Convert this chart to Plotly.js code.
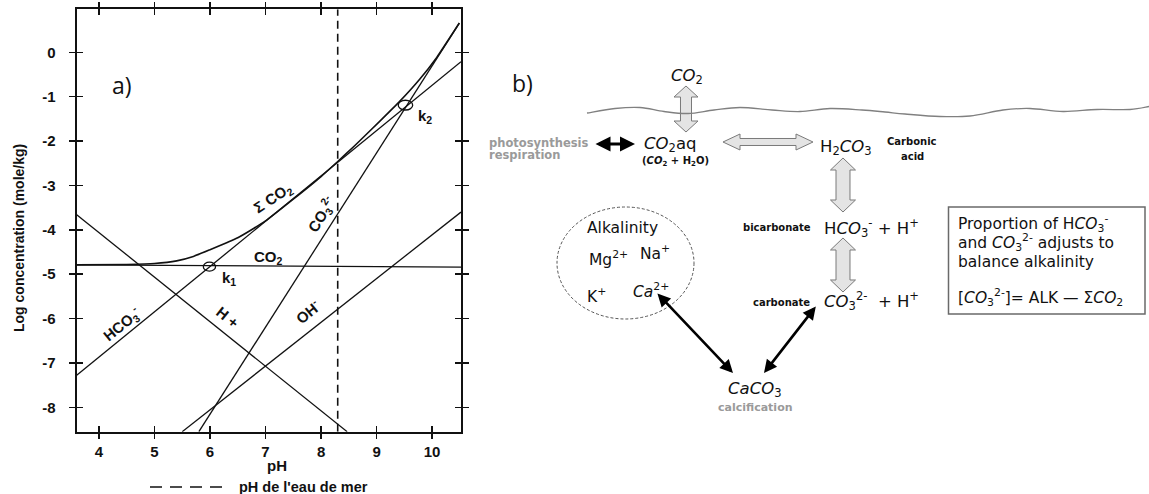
<!DOCTYPE html>
<html>
<head>
<meta charset="utf-8">
<script src="https://cdn.plot.ly/plotly-3.0.1.min.js"></script>
<style>html,body{margin:0;padding:0;background:#fff;}#chart{width:1149px;height:494px;}</style>
</head>
<body>
<div id="chart"></div>
<script>
// ---- Data ----
const phRange = [3.6, 10.52];
const logRange = [-8.55, 0.97];
const phTicks = [4, 5, 6, 7, 8, 9, 10];
const logTicks = [0, -1, -2, -3, -4, -5, -6, -7, -8];

const co2PH = [3.6, 10.52];
const co2Log = [-4.79, -4.84];

const hco3PH = [3.6, 10.52];
const hco3Log = [-7.28, -0.21];

const co3PH = [5.80, 10.49];
const co3Log = [-8.55, 0.66];

const hPH = [3.6, 8.47];
const hLog = [-3.66, -8.55];

const ohPH = [5.50, 10.52];
const ohLog = [-8.55, -3.60];

const sumPH = [3.6, 4.5, 5.0, 5.4, 5.7, 6.0, 6.3, 6.5, 6.8, 7.0, 7.5, 8.0, 8.3, 8.6, 9.06, 9.42, 9.78, 10.08, 10.49];
const sumLog = [-4.79, -4.78, -4.76, -4.70, -4.60, -4.45, -4.29, -4.18, -3.96, -3.80, -3.31, -2.80, -2.46, -2.11, -1.55, -1.10, -0.60, -0.12, 0.66];

const seawaterPH = [8.3, 8.3];
const seawaterLog = [-8.55, 0.97];

const k1 = {ph: 5.99, log: -4.83};
const k2 = {ph: 9.52, log: -1.19};

// ---- helpers ----
const W = 1149, H = 494;
const px = x => x / W;
const py = y => 1 - y / H;
const FA = 'Liberation Sans, Arial, sans-serif';
const FC = 'DejaVu Sans, sans-serif';

function line(x, y, w, extra) {
  return Object.assign({x: x, y: y, mode: 'lines', type: 'scatter', hoverinfo: 'skip',
    line: {color: '#111', width: w || 1.3}, showlegend: false}, extra || {});
}

const traces = [
  line(co2PH, co2Log, 1.3),
  line(hco3PH, hco3Log, 1.3),
  line(co3PH, co3Log, 1.3),
  line(hPH, hLog, 1.3),
  line(ohPH, ohLog, 1.3),
  line(sumPH, sumLog, 1.6, {line: {color: '#111', width: 1.6, shape: 'spline', smoothing: 0.5}}),
  line(seawaterPH, seawaterLog, 1.6, {xaxis: 'x2', yaxis: 'y2', name: "pH de l'eau de mer",
    line: {color: '#111', width: 1.6, dash: '8px,5px'}})
];

const xdom = [76.7 / W, 461 / W];
const ydom = [1 - 431.7 / H, 1 - 9.3 / H];
const tf = {family: FA, size: 15, color: '#111', weight: 'bold'};

const layout = {
  width: W, height: H,
  margin: {l: 0, r: 0, t: 0, b: 0},
  paper_bgcolor: '#fff', plot_bgcolor: 'rgba(0,0,0,0)',
  showlegend: false,
  xaxis: {domain: xdom, range: phRange, tickvals: phTicks, ticks: 'outside', ticklen: 5, tickwidth: 1.5,
    tickcolor: '#111', mirror: 'ticks', showline: true, linewidth: 2, linecolor: '#111',
    showgrid: false, zeroline: false, tickfont: tf, fixedrange: true},
  yaxis: {domain: ydom, range: logRange, tickvals: logTicks, ticktext: logTicks.map(String),
    ticks: 'outside', ticklen: 6, tickwidth: 1.5, tickcolor: '#111', mirror: 'ticks', showline: true,
    linewidth: 2, linecolor: '#111', showgrid: false, zeroline: false, tickfont: tf,
    ticklabelstandoff: 10, fixedrange: true},
  xaxis2: {overlaying: 'x', anchor: 'y2', domain: xdom, range: phRange, tickvals: phTicks, ticks: 'inside',
    ticklen: 6, tickwidth: 1.5, tickcolor: '#111', mirror: 'ticks', showline: false, showgrid: false,
    zeroline: false, showticklabels: false, fixedrange: true},
  yaxis2: {overlaying: 'y', anchor: 'x2', domain: ydom, range: logRange, tickvals: logTicks, ticks: 'inside',
    ticklen: 6, tickwidth: 1.5, tickcolor: '#111', mirror: 'ticks', showline: false, showgrid: false,
    zeroline: false, showticklabels: false, fixedrange: true},
  shapes: [],
  annotations: []
};

function txt(x, y, text, opt) {
  const o = opt || {};
  layout.annotations.push({
    xref: 'paper', yref: 'paper', x: px(x), y: py(y), text: text, showarrow: false,
    xanchor: o.xanchor || 'center', yanchor: o.yanchor || 'middle', textangle: o.angle || 0,
    align: o.align || 'center',
    font: {family: o.family || FC, size: o.size || 15, color: o.color || '#111',
      weight: o.weight || 'normal', style: o.style || 'normal'}
  });
}

// ---- panel a labels ----
const B = {family: FA, weight: 'bold', size: 15};
txt(121.7, 85, 'a)', {family: 'Open Sans, sans-serif', size: 23});
txt(273, 198, 'Σ CO<sub>2</sub>', Object.assign({angle: -33}, B));
txt(321, 214, 'CO<sub>3</sub><sup>2-</sup>', Object.assign({angle: -58}, B));
txt(268, 257, 'CO<sub>2</sub>', B);
txt(229, 278, 'k<sub>1</sub>', B);
txt(425, 116, 'k<sub>2</sub>', B);
txt(121, 324, 'HCO<sub>3</sub><sup>-</sup>', Object.assign({angle: -39}, B));
txt(228, 317, 'H +', Object.assign({angle: 39}, B));
txt(307, 311, 'OH<sup>-</sup>', Object.assign({angle: -39}, B));
txt(277, 465, 'pH', Object.assign({}, B, {size: 15}));
txt(19, 238, 'Log concentration (mole/kg)', Object.assign({angle: -90}, B, {size: 14}));
txt(237, 487, "pH de l'eau de mer", Object.assign({xanchor: 'left'}, B, {size: 14.5}));
layout.shapes.push({type: 'line', xref: 'paper', yref: 'paper', x0: px(150), x1: px(222), y0: py(487), y1: py(487),
  line: {color: '#111', width: 1.4, dash: '12px,8px'}});

// k circles (data coords)
[[k1, 0.11, 0.10], [k2, 0.13, 0.11]].forEach(([k, dx, dy]) => {
  layout.shapes.push({type: 'circle', xref: 'x', yref: 'y', x0: k.ph - dx, x1: k.ph + dx,
    y0: k.log - dy, y1: k.log + dy, line: {color: '#111', width: 1.3}});
});

// ---- panel b: diagram ----
function P(x, y) { return px(x).toFixed(5) + ',' + py(y).toFixed(5); }

function hollowArrow(x1, y1, x2, y2, sw, hw, hl) {
  const L = Math.hypot(x2 - x1, y2 - y1);
  const ux = (x2 - x1) / L, uy = (y2 - y1) / L, nx = -uy, ny = ux;
  const b1 = [x1 + ux * hl, y1 + uy * hl], b2 = [x2 - ux * hl, y2 - uy * hl];
  const pts = [
    [x1, y1],
    [b1[0] + nx * hw / 2, b1[1] + ny * hw / 2],
    [b1[0] + nx * sw / 2, b1[1] + ny * sw / 2],
    [b2[0] + nx * sw / 2, b2[1] + ny * sw / 2],
    [b2[0] + nx * hw / 2, b2[1] + ny * hw / 2],
    [x2, y2],
    [b2[0] - nx * hw / 2, b2[1] - ny * hw / 2],
    [b2[0] - nx * sw / 2, b2[1] - ny * sw / 2],
    [b1[0] - nx * sw / 2, b1[1] - ny * sw / 2],
    [b1[0] - nx * hw / 2, b1[1] - ny * hw / 2]
  ];
  const path = 'M' + pts.map(p => P(p[0], p[1])).join(' L') + ' Z';
  layout.shapes.push({type: 'path', xref: 'paper', yref: 'paper', path: path,
    fillcolor: '#e4e4e4', line: {color: '#7a7a7a', width: 1}});
}
hollowArrow(686, 86, 686, 132, 11, 24, 11);
hollowArrow(723, 142, 813, 142, 7, 16, 17);
hollowArrow(843, 158, 843, 212, 14, 25, 12);
hollowArrow(843, 238, 843, 292, 14, 25, 12);

// water surface wave
const wave = [[587,113],[615,108.5],[640,107.5],[664,111.5],[688,113.5],[714,110],[740,107.5],[772,110],
  [800,111.5],[830,108.5],[862,110],[885,112],[905,114],[940,116.5],[970,116],[1003,110],[1030,108.5],
  [1063,111.5],[1097,109.5],[1130,109.5],[1149,106.5]];
(function () {
  let d = 'M' + P(wave[0][0], wave[0][1]);
  for (let i = 0; i < wave.length - 1; i++) {
    const p0 = wave[Math.max(i - 1, 0)], p1 = wave[i], p2 = wave[i + 1], p3 = wave[Math.min(i + 2, wave.length - 1)];
    const c1 = [p1[0] + (p2[0] - p0[0]) / 6, p1[1] + (p2[1] - p0[1]) / 6];
    const c2 = [p2[0] - (p3[0] - p1[0]) / 6, p2[1] - (p3[1] - p1[1]) / 6];
    d += ' C' + P(c1[0], c1[1]) + ' ' + P(c2[0], c2[1]) + ' ' + P(p2[0], p2[1]);
  }
  layout.shapes.push({type: 'path', xref: 'paper', yref: 'paper', path: d, line: {color: '#808080', width: 1.3}});
})();

// dashed ellipse
layout.shapes.push({type: 'circle', xref: 'paper', yref: 'paper', x0: px(557), x1: px(694), y0: py(319), y1: py(207),
  line: {color: '#555', width: 1, dash: '3px,2px'}});

// box
layout.shapes.push({type: 'rect', xref: 'paper', yref: 'paper', x0: px(948.5), x1: px(1145), y0: py(314), y1: py(207),
  line: {color: '#6a6a6a', width: 1.5}});

// black double arrows
function blackArrow(hx, hy, tx, ty, w) {
  layout.annotations.push({xref: 'paper', yref: 'paper', x: px(hx), y: py(hy), ax: tx - hx, ay: ty - hy,
    text: '', showarrow: true, arrowhead: 2, startarrowhead: 2, arrowside: 'end+start', arrowsize: 1,
    startarrowsize: 1, arrowwidth: w, arrowcolor: '#000', standoff: 0, startstandoff: 0});
}
blackArrow(635, 144, 594, 144, 3);
blackArrow(733, 373, 656, 292, 2.6);
blackArrow(764, 373, 817, 305, 2.6);

// diagram texts
txt(522, 83, 'b)', {family: 'Open Sans, sans-serif', size: 23});
txt(687, 76, '<i>CO</i><sub>2</sub>', {size: 16.5});
txt(487, 143, 'photosynthesis', {xanchor: 'left', size: 11.5, weight: 'bold', color: '#9a9a9a'});
txt(487, 155, 'respiration', {xanchor: 'left', size: 11.5, weight: 'bold', color: '#9a9a9a'});
txt(670, 145, '<i>CO</i><sub>2</sub>aq', {size: 16.5});
txt(675, 161, '(<i>CO</i><sub>2</sub> + H<sub>2</sub>O)', {size: 10, weight: 'bold'});
txt(846, 148, 'H<sub>2</sub><i>CO</i><sub>3</sub>', {size: 16.5});
txt(912, 142, 'Carbonic', {size: 10, weight: 'bold'});
txt(912, 156, 'acid', {size: 10, weight: 'bold'});
txt(813, 227, 'bicarbonate', {xanchor: 'right', size: 10, weight: 'bold'});
txt(822, 228, 'H<i>CO</i><sub>3</sub><sup>-</sup> + H<sup>+</sup>', {xanchor: 'left', size: 16.5});
txt(812, 302, 'carbonate', {xanchor: 'right', size: 10, weight: 'bold'});
txt(822, 301, '<i>CO</i><sub>3</sub><sup>2-</sup>  + H<sup>+</sup>', {xanchor: 'left', size: 16.5});
txt(622, 228, 'Alkalinity', {size: 15.5});
txt(608, 258, 'Mg<sup>2+</sup>', {size: 15.5});
txt(655, 252, 'Na<sup>+</sup>', {size: 15.5});
txt(596, 295, 'K<sup>+</sup>', {size: 15.5});
txt(651, 290, '<i>Ca</i><sup>2+</sup>', {size: 15.5});
txt(755, 389, '<i>CaCO</i><sub>3</sub>', {size: 16.5});
txt(755, 407, 'calcification', {size: 11, weight: 'bold', color: '#9a9a9a'});
txt(956, 223, 'Proportion of H<i>CO</i><sub>3</sub><sup>-</sup>', {xanchor: 'left', size: 15.5});
txt(956, 242, 'and <i>CO</i><sub>3</sub><sup>2-</sup> adjusts to', {xanchor: 'left', size: 15.5});
txt(956, 262, 'balance alkalinity', {xanchor: 'left', size: 15.5});
txt(956, 297, '[<i>CO</i><sub>3</sub><sup>2-</sup>]= ALK — Σ<i>CO</i><sub>2</sub>', {xanchor: 'left', size: 15.5});

Plotly.newPlot('chart', traces, layout, {displayModeBar: false, staticPlot: true});
</script>
</body>
</html>
